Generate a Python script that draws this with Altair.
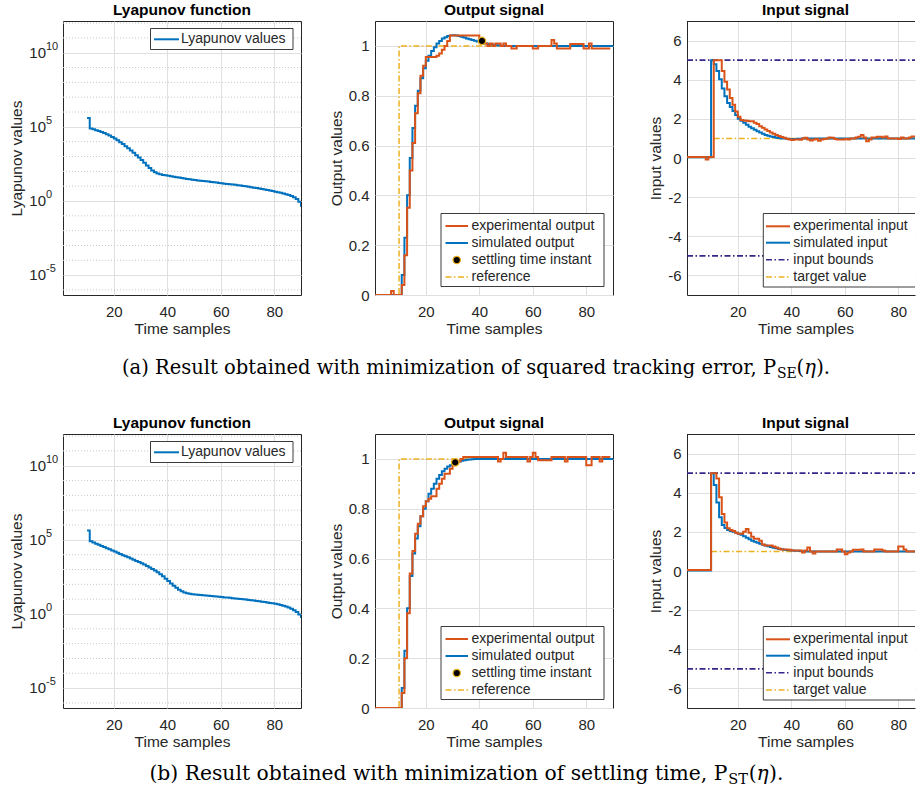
import altair as alt
import pandas as pd

# ------------------------------------------------------------------ data
samples = list(range(1, 91))

# Lyapunov function, log10 of the values, samples 10..90
lyap_s = list(range(10, 91))
lyap_a_log10 = [5.60, 4.89, 4.84, 4.78, 4.72, 4.66, 4.58, 4.50, 4.41, 4.32, 4.22,
                4.10, 3.97, 3.84, 3.70, 3.55, 3.40, 3.25, 3.09, 2.93, 2.76,
                2.58, 2.40, 2.22, 2.06, 1.94, 1.86, 1.80, 1.76, 1.73, 1.70,
                1.67, 1.64, 1.61, 1.58, 1.55, 1.52, 1.49, 1.46, 1.43, 1.41,
                1.39, 1.37, 1.35, 1.33, 1.31, 1.28, 1.26, 1.24, 1.22, 1.19,
                1.17, 1.15, 1.13, 1.11, 1.09, 1.06, 1.04, 1.01, 0.99, 0.96,
                0.93, 0.90, 0.87, 0.84, 0.81, 0.78, 0.74, 0.71, 0.67, 0.63,
                0.59, 0.55, 0.50, 0.45, 0.40, 0.33, 0.25, 0.13, -0.05, -0.38]
lyap_b_log10 = [5.63, 4.90, 4.82, 4.74, 4.67, 4.59, 4.52, 4.44, 4.36, 4.29, 4.21,
                4.13, 4.05, 3.97, 3.90, 3.82, 3.74, 3.66, 3.58, 3.50, 3.42,
                3.33, 3.24, 3.14, 3.04, 2.93, 2.81, 2.68, 2.54, 2.38, 2.22,
                2.06, 1.91, 1.77, 1.64, 1.53, 1.45, 1.40, 1.36, 1.33, 1.31,
                1.29, 1.28, 1.26, 1.25, 1.23, 1.21, 1.20, 1.18, 1.16, 1.14,
                1.12, 1.11, 1.09, 1.07, 1.05, 1.03, 1.01, 0.99, 0.97, 0.95,
                0.93, 0.91, 0.88, 0.86, 0.83, 0.81, 0.78, 0.75, 0.72, 0.69,
                0.65, 0.61, 0.56, 0.50, 0.43, 0.35, 0.25, 0.13, -0.03, -0.27]
lyap_ticks = [1e-5, 1.0, 1e5, 1e10]
lyap_tick_exp = ["-5", "0", "5", "10"]
lyap_minor_exp = [-6, -4, -3, -2, -1, 1, 2, 3, 4, 6, 7, 8, 9, 11, 12]

# Output signal (a): simulated s=1..90, experimental s=1..89
sim_out_a = [0, 0, 0, 0, 0, 0, 0, 0, 0, 0,
             0.08, 0.23, 0.40, 0.55, 0.67, 0.76, 0.82, 0.87, 0.91, 0.94,
             0.96, 0.98, 0.995, 1.01, 1.02, 1.03, 1.035, 1.04, 1.042, 1.043,
             1.042, 1.04, 1.037, 1.034, 1.03, 1.027, 1.024, 1.021, 1.018, 1.015,
             1.012, 1.01, 1.008, 1.006, 1.004, 1.003, 1.002, 1.001, 1.0, 1.0,
             1.0, 1.0, 1.0, 1.0, 1.0, 1.0, 1.0, 1.0, 1.0, 1.0,
             1.0, 1.0, 1.0, 1.0, 1.0, 1.0, 1.0, 1.0, 1.0, 1.0,
             1.0, 1.0, 1.0, 1.0, 1.0, 1.0, 1.0, 1.0, 1.0, 1.0,
             1.0, 1.0, 1.0, 1.0, 1.0, 1.0, 1.0, 1.0, 1.0, 1.0]
exp_out_a = [0, 0, 0, 0, 0, 0, 0.016, 0, 0, 0,
             0.04, 0.16, 0.35, 0.50, 0.61, 0.73, 0.81, 0.88, 0.92, 0.955,
             0.955, 0.955, 0.955, 0.96, 0.97, 0.985, 1.0, 1.02, 1.042, 1.042,
             1.042, 1.042, 1.042, 1.042, 1.042, 1.042, 1.042, 1.042, 1.042, 1.02,
             1.02, 1.01, 1.0, 1.01, 1.0, 1.01, 1.01, 1.0, 1.01, 1.0,
             1.0, 0.99, 0.99, 1.0, 1.0, 1.0, 1.0, 1.0, 1.0, 0.99,
             0.99, 1.0, 1.0, 1.0, 1.0, 1.0, 1.024, 1.01, 0.99, 0.99,
             0.99, 0.99, 0.99, 1.008, 1.008, 1.008, 1.008, 1.008, 0.99, 0.99,
             1.01, 0.99, 0.99, 0.99, 0.99, 0.99, 0.99, 0.99, 0.99]
settle_a = (41, 1.02)

# Output signal (b)
sim_out_b = [0, 0, 0, 0, 0, 0, 0, 0, 0, 0,
             0.08, 0.23, 0.40, 0.53, 0.62, 0.68, 0.73, 0.77, 0.80, 0.83,
             0.86, 0.88, 0.90, 0.92, 0.935, 0.95, 0.96, 0.97, 0.975, 0.98,
             0.985, 0.99, 0.993, 0.995, 0.997, 0.998, 0.999, 1.0, 1.0, 1.0,
             1.0, 1.0, 1.0, 1.0, 1.0, 1.0, 1.0, 1.0, 1.0, 1.0,
             1.0, 1.0, 1.0, 1.0, 1.0, 1.0, 1.0, 1.0, 1.0, 1.0,
             1.0, 1.0, 1.0, 1.0, 1.0, 1.0, 1.0, 1.0, 1.0, 1.0,
             1.0, 1.0, 1.0, 1.0, 1.0, 1.0, 1.0, 1.0, 1.0, 1.0,
             1.0, 1.0, 1.0, 1.0, 1.0, 1.0, 1.0, 1.0, 1.0, 1.0]
exp_out_b = [0, 0, 0, 0, 0, 0, 0, 0, 0, 0,
             0.06, 0.20, 0.38, 0.54, 0.63, 0.70, 0.74, 0.77, 0.81, 0.83,
             0.84, 0.85, 0.85, 0.88, 0.90, 0.92, 0.94, 0.94, 0.96, 0.98,
             0.98, 0.99, 1.0, 1.008, 1.008, 1.008, 1.008, 1.008, 1.008, 1.008,
             1.008, 1.008, 1.008, 1.008, 1.008, 1.008, 0.99, 1.0, 1.025, 1.008,
             1.008, 1.008, 1.008, 1.008, 1.008, 1.008, 1.008, 0.99, 1.008, 1.025,
             1.008, 0.995, 0.995, 0.995, 0.995, 0.995, 1.008, 1.008, 1.008, 1.008,
             1.008, 0.99, 1.008, 1.008, 1.008, 1.008, 1.008, 1.008, 1.008, 0.975,
             0.975, 1.008, 1.008, 1.008, 0.99, 1.008, 1.008, 1.008, 1.008]
settle_b = (31, 0.986)

ref_s = [1, 10, 90]
ref_v = [0, 1, 1]

# Input signal (a)
sim_in_a = [0.04, 0.04, 0.04, 0.04, 0.04, 0.04, 0.04, 0.04, 0.04, 5.0,
            4.79, 4.45, 4.02, 3.55, 3.15, 2.81, 2.6, 2.4, 2.2, 2.0,
            1.9, 1.8, 1.7, 1.6, 1.52, 1.44, 1.37, 1.3, 1.24, 1.18,
            1.14, 1.1, 1.07, 1.04, 1.02, 1.0, 0.99, 0.98, 0.97, 0.97,
            0.97, 0.98, 0.98, 0.99, 0.99, 1.0, 1.0, 1.0, 1.0, 1.0,
            1.0, 1.0, 1.0, 1.0, 1.0, 1.0, 1.0, 1.0, 1.0, 1.0,
            1.0, 1.0, 1.0, 1.0, 1.0, 1.0, 1.0, 1.0, 1.0, 1.0,
            1.0, 1.0, 1.0, 1.0, 1.0, 1.0, 1.0, 1.0, 1.0, 1.0,
            1.0, 1.0, 1.0, 1.0, 1.0, 1.0, 1.0, 1.0, 1.0, 1.0]
exp_in_a = [0.05, 0.05, 0.05, 0.05, 0.05, 0.05, 0.05, -0.08, 0.05, 0.05,
            5.0, 5.0, 5.0, 4.45, 3.9, 3.5, 3.07, 2.72, 2.37, 2.11,
            1.94, 1.92, 1.9, 1.88, 1.88, 1.8, 1.74, 1.62, 1.55, 1.45,
            1.38, 1.3, 1.24, 1.17, 1.12, 1.07, 1.03, 0.98, 0.94, 0.92,
            0.95, 0.95, 0.93, 1.0, 1.03, 0.95, 0.9, 0.95, 0.97, 0.88,
            0.95, 0.97, 1.0, 1.05, 1.03, 0.97, 0.95, 0.95, 0.95, 0.97,
            0.95, 1.0, 1.0, 1.05, 1.08, 1.18, 1.05, 0.85, 0.95, 1.05,
            1.05, 1.08, 1.08, 1.05, 1.1, 1.0, 1.0, 1.0, 1.0, 0.97,
            1.05, 1.0, 1.0, 1.05, 1.1, 1.1, 1.1, 1.15, 1.12]
target_a_s = [11, 90]

# Input signal (b)
sim_in_b = [0.03, 0.03, 0.03, 0.03, 0.03, 0.03, 0.03, 0.03, 0.03, 5.0,
            4.4, 3.5, 2.75, 2.35, 2.2, 2.1, 2.05, 2.0, 1.95, 1.9,
            1.85, 1.78, 1.7, 1.62, 1.55, 1.5, 1.44, 1.39, 1.34, 1.3,
            1.26, 1.22, 1.19, 1.16, 1.13, 1.11, 1.09, 1.07, 1.06, 1.05,
            1.04, 1.03, 1.02, 1.01, 1.0, 1.0, 1.0, 1.0, 1.0, 1.0,
            1.0, 1.0, 1.0, 1.0, 1.0, 1.0, 1.0, 1.0, 1.0, 1.0,
            1.0, 1.0, 1.0, 1.0, 1.0, 1.0, 1.0, 1.0, 1.0, 1.0,
            1.0, 1.0, 1.0, 1.0, 1.0, 1.0, 1.0, 1.0, 1.0, 1.0,
            1.0, 1.0, 1.0, 1.0, 1.0, 1.0, 1.0, 1.0, 1.0, 1.0]
exp_in_b = [0.05, 0.05, 0.05, 0.05, 0.05, 0.05, 0.05, 0.05, 0.05, 5.0,
            5.0, 4.72, 3.77, 2.91, 2.48, 2.18, 2.1, 2.05, 1.95, 1.9,
            1.9, 2.0, 2.15, 1.95, 1.75, 1.65, 1.65, 1.55, 1.35, 1.3,
            1.3, 1.3, 1.25, 1.2, 1.15, 1.1, 1.1, 1.1, 1.08, 1.05,
            1.05, 1.05, 1.05, 0.95, 1.05, 1.2, 1.0, 0.9, 1.0, 1.0,
            1.0, 1.0, 1.0, 1.0, 1.0, 1.0, 1.1, 1.1, 1.0, 0.85,
            0.95, 1.0, 1.08, 1.08, 1.08, 1.1, 1.0, 1.0, 1.0, 1.0,
            1.1, 1.1, 1.1, 1.05, 1.0, 1.0, 1.0, 1.0, 1.0, 1.25,
            1.25, 1.1, 1.0, 1.0, 1.0, 1.0, 1.0, 1.0, 1.0]
target_b_s = [10, 90]
target_v = [1, 1]
bound_s = [1, 90]
bound_hi = [5, 5]
bound_lo = [-5, -5]

x_ticks = [20, 40, 60, 80]
out_ticks = [0, 0.2, 0.4, 0.6, 0.8, 1]
in_ticks = [-6, -4, -2, 0, 2, 4, 6]

# ------------------------------------------------------------------ style
AX = "#262626"
GRID = "#dfdfdf"
MINOR = "#c9c9c9"
BLUE = "#0072BD"
ORANGE = "#D95319"
YELLOW = "#EDB120"
BOUND = "#35278a"
FONT = "Liberation Sans"
SERIF = "DejaVu Serif"
DASHDOT = [6, 2.5, 1.5, 2.5]

W1, W2, W3 = 238, 238, 228
H = 274
PX_PER_SAMPLE = W1 / 89.0
X3MAX = 1 + W3 / PX_PER_SAMPLE

ONE = pd.DataFrame({"k": [0]})


def x_axis(title_x, domain=False):
    return alt.Axis(values=x_ticks, title="Time samples", grid=True, gridColor=GRID,
                    ticks=False, tickSize=0, domain=domain, domainColor=AX,
                    labelFontSize=15, labelColor=AX, labelFont=FONT, labelPadding=9,
                    labelFlush=False, titleFontSize=15.5, titleColor=AX, titleFont=FONT,
                    titleFontWeight="normal", titleX=title_x, titleY=33,
                    titleBaseline="middle", titleAlign="center")


def y_axis(title, title_x, values, labels=True, label_expr=None, domain=False):
    kw = dict(values=values, title=title, grid=True, gridColor=GRID, ticks=False,
              tickSize=0, domain=domain, domainColor=AX, labels=labels,
              labelFontSize=15, labelColor=AX, labelFont=FONT, labelPadding=6,
              titleFontSize=15.5, titleColor=AX, titleFont=FONT, titleFontWeight="normal",
              titleX=title_x, titleY=H / 2, titleAngle=270, titleBaseline="middle",
              titleAlign="center")
    if label_expr is not None:
        kw["labelExpr"] = label_expr
    return alt.Axis(**kw)


def step_series(s, v, color, width, X, Y, dash=None):
    mk = dict(interpolate="step-after", color=color, strokeWidth=width, clip=True)
    if dash is not None:
        mk["strokeDash"] = dash
    return alt.Chart(pd.DataFrame({"s": s, "v": v})).mark_line(**mk).encode(x=X, y=Y)


def legend_layers(box, line_x, text_x, entries, clip=False):
    x0, y0, x1, y1 = box
    out = [alt.Chart(ONE).mark_rect(fill="white", stroke=AX, strokeWidth=0.9, clip=clip)
           .encode(x=alt.value(x0), x2=alt.value(x1), y=alt.value(y0), y2=alt.value(y1))]
    for label, kind, color, dash, y in entries:
        if kind == "marker":
            out.append(alt.Chart(ONE).mark_point(shape="circle", filled=True, fill="black",
                                                 stroke=YELLOW, strokeWidth=1.2, size=55,
                                                 opacity=1, clip=clip)
                       .encode(x=alt.value((line_x[0] + line_x[1]) / 2), y=alt.value(y)))
        else:
            mk = dict(color=color, strokeWidth=2 if dash is None else 1.6, clip=clip)
            if dash is not None:
                mk["strokeDash"] = dash
            out.append(alt.Chart(ONE).mark_rule(**mk)
                       .encode(x=alt.value(line_x[0]), x2=alt.value(line_x[1]), y=alt.value(y)))
        out.append(alt.Chart(ONE).mark_text(text=label, align="left", baseline="middle",
                                            font=FONT, fontSize=14, color=AX, clip=clip)
                   .encode(x=alt.value(text_x), y=alt.value(y)))
    return out


def caption_layers(y, x_right, main, sub, size):
    k = size / 19.5
    sub_size = 14 * k
    sub_w = 19.6 * k

    def txt(t, x, fs, dy=0, style="normal", align="left"):
        return alt.Chart(ONE).mark_text(text=t, align=align, baseline="alphabetic", font=SERIF,
                                        fontSize=fs, color="black", dy=dy,
                                        fontStyle=style).encode(x=alt.value(x), y=alt.value(y))
    x_tail = x_right + 1 + sub_w
    return [
        txt(main, x_right, size, align="right"),
        txt(sub, x_right + 1, sub_size, dy=4 * k),
        txt("(", x_tail, size),
        txt("η", x_tail + 7.6 * k, size, style="italic"),
        txt(").", x_tail + 19.6 * k, size),
    ]


def title(text, dx=0):
    return alt.TitleParams(text=text, fontSize=15.5, fontWeight="bold", color="black",
                           font=FONT, offset=3, anchor="middle", dx=dx)


# ------------------------------------------------------------------ panels
def lyap_panel(log10_vals):
    ls = alt.Scale(type="log", domain=[10 ** -6.34, 10 ** 12.14], nice=False)
    X = alt.X("s:Q", scale=alt.Scale(domain=[1, 90], nice=False, zero=False),
              axis=x_axis(W1 / 2))
    Y = alt.Y("v:Q", scale=ls, axis=y_axis("Lyapunov values", -46.5, lyap_ticks, labels=False))
    minor = alt.Chart(pd.DataFrame({"v": [10.0 ** e for e in lyap_minor_exp]})).mark_rule(
        color=MINOR, strokeDash=[1, 2], strokeWidth=1).encode(y=alt.Y("v:Q", scale=ls))
    line = step_series(lyap_s, [10.0 ** e for e in log10_vals], BLUE, 2, X, Y)
    tick_df = pd.DataFrame({"v": lyap_ticks, "e": lyap_tick_exp})
    base = alt.Chart(tick_df).mark_text(text="10", align="right", baseline="middle", font=FONT,
                                        fontSize=15, color=AX).encode(
        y=alt.Y("v:Q", scale=ls), x=alt.value(-17))
    sup = alt.Chart(tick_df).mark_text(align="left", baseline="middle", font=FONT,
                                       fontSize=11, color=AX, dy=-6).encode(
        y=alt.Y("v:Q", scale=ls), x=alt.value(-17), text="e:N")
    leg = legend_layers((87.5, 7.5, 230, 28.5), (91, 116), 118,
                        [("Lyapunov values", "line", BLUE, None, 18.3)])
    return alt.layer(minor, line, base, sup, *leg).properties(
        width=W1, height=H, title=title("Lyapunov function"))


def output_panel(sim, exp, settle, cap):
    X = alt.X("s:Q", scale=alt.Scale(domain=[1, 90], nice=False, zero=False),
              axis=x_axis(W2 / 2))
    Y = alt.Y("v:Q", scale=alt.Scale(domain=[0, 1.1], nice=False, zero=False),
              axis=y_axis("Output values", -39, out_ticks, label_expr="format(datum.value, '~g')"))
    ref = step_series(ref_s, ref_v, YELLOW, 1.5, X, Y, dash=DASHDOT)
    b = step_series(samples[:len(sim)], sim, BLUE, 2, X, Y)
    o = step_series(samples[:len(exp)], exp, ORANGE, 2, X, Y)
    mk = alt.Chart(pd.DataFrame({"s": [settle[0]], "v": [settle[1]]})).mark_point(
        shape="circle", filled=True, fill="black", stroke=YELLOW, strokeWidth=1.2,
        size=55, opacity=1).encode(x=X, y=Y)
    leg = legend_layers((66, 192.5, 229, 265.5), (70.5, 93), 96.5, [
        ("experimental output", "line", ORANGE, None, 205),
        ("simulated output", "line", BLUE, None, 222),
        ("settling time instant", "marker", None, None, 239),
        ("reference", "line", YELLOW, DASHDOT, 256)])
    return alt.layer(ref, b, o, mk, *leg, *cap).properties(
        width=W2, height=H, title=title("Output signal"))


def input_panel(sim, exp, target_s):
    X = alt.X("s:Q", scale=alt.Scale(domain=[1, X3MAX], nice=False, zero=False),
              axis=x_axis(118.5, domain=True))
    Y = alt.Y("v:Q", scale=alt.Scale(domain=[-7, 7], nice=False, zero=False),
              axis=y_axis("Input values", -31.5, in_ticks, domain=True,
                          label_expr="datum.value < 0 ? '-' + abs(datum.value) : '' + datum.value"))
    hi = step_series(bound_s, bound_hi, BOUND, 1.6, X, Y, dash=DASHDOT)
    lo = step_series(bound_s, bound_lo, BOUND, 1.6, X, Y, dash=DASHDOT)
    tg = step_series(target_s, target_v, YELLOW, 1.6, X, Y, dash=DASHDOT)
    b = step_series(samples[:len(sim)], sim, BLUE, 2, X, Y)
    o = step_series(samples[:len(exp)], exp, ORANGE, 2, X, Y)
    top = alt.Chart(ONE).mark_rule(color=AX, strokeWidth=1).encode(
        x=alt.value(0), x2=alt.value(W3), y=alt.value(0.5))
    leg = legend_layers((76.3, 192.5, 240, 266), (79, 103), 106.3, [
        ("experimental input", "line", ORANGE, None, 205.3),
        ("simulated input", "line", BLUE, None, 221.7),
        ("input bounds", "line", BOUND, DASHDOT, 238.7),
        ("target value", "line", YELLOW, DASHDOT, 256)], clip=True)
    return alt.layer(hi, lo, tg, b, o, top, *leg).properties(
        width=W3, height=H, title=title("Input signal", dx=4.5),
        view=alt.ViewBackground(stroke="transparent"))


cap_a = caption_layers(353, 401, "(a) Result obtained with minimization of squared tracking error, P",
                       "SE", 19.5)
cap_b = caption_layers(345.5, 352.3, "(b) Result obtained with minimization of settling time, P",
                       "ST", 20.3)

panels = [
    lyap_panel(lyap_a_log10),
    output_panel(sim_out_a, exp_out_a, settle_a, cap_a),
    input_panel(sim_in_a, exp_in_a, target_a_s),
    lyap_panel(lyap_b_log10),
    output_panel(sim_out_b, exp_out_b, settle_b, cap_b),
    input_panel(sim_in_b, exp_in_b, target_b_s),
]

chart = alt.concat(*panels, columns=3, spacing={"row": 139, "column": 74},
                   bounds="flush").properties(
    padding={"left": 9, "top": 2, "right": 0, "bottom": 4},
    background="white",
).configure_view(stroke=AX, strokeWidth=1)

chart.save("out.html", embed_options={"renderer": "svg", "actions": False})
